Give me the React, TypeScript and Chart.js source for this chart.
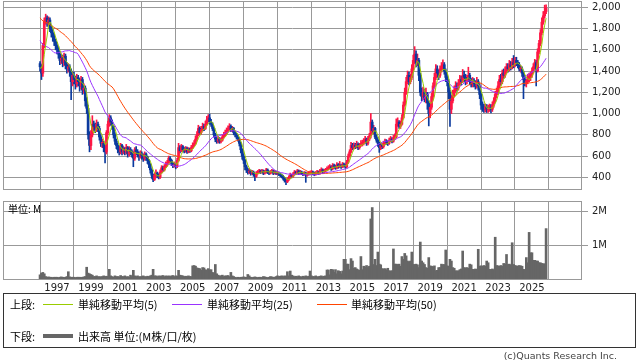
import React, { useEffect, useRef } from "react";
import { Chart, registerables } from "chart.js";

Chart.register(...registerables);

// ---------- data (monthly, Jan 1996 .. Nov 2025) ----------
const START_YEAR = 1996;
const yearTicks = [1997, 1999, 2001, 2003, 2005, 2007, 2009, 2011, 2013, 2015, 2017, 2019, 2021, 2023, 2025];
const priceTicks = [400, 600, 800, 1000, 1200, 1400, 1600, 1800, 2000];
const volumeTicks = [1, 2];
const maPeriods = [5, 25, 50];

// closes before Jan 1996 (only used to warm up the moving averages)
const preCloses = [
  2150, 2250, 2300, 2200, 2100, 2250, 2300, 2200, 2150, 2100,
  2050, 1950, 2000, 2100, 2050, 1950, 2000, 2100,
  2100, 2150, 2050, 2000, 2100, 2150, 2100, 2000, 1950, 2050, 2100, 2050, 2000, 2100, 2050, 2000, 2020,
  1700, 1600, 1500, 1450, 1400, 1450, 1400, 1380, 1420, 1400, 1380, 1450, 1420, 1450,
];

const opens = [
  1470, 1440, 1380, 1640, 1870, 1900, 1860, 1880, 1800, 1760, 1720, 1680,
  1640, 1600, 1560, 1500, 1520, 1480, 1540, 1460, 1420, 1440, 1400, 1300,
  1360, 1320, 1280, 1340, 1300, 1260, 1320, 1220, 1240, 1120, 1050, 800,
  700, 800, 900, 880, 850, 900, 860, 780, 720, 720, 680, 640,
  820, 900, 960, 920, 880, 800, 740, 700, 660, 640, 700, 640,
  660, 640, 680, 620, 660, 640, 620, 580, 660, 640, 620, 600,
  620, 600, 580, 620, 590, 560, 520, 470, 420, 380, 420, 440,
  420, 400, 450, 490, 470, 500, 520, 540, 580, 560, 530, 510,
  520, 500, 560, 680, 650, 690, 660, 650, 670, 640, 660, 650,
  680, 700, 720, 760, 800, 860, 820, 850, 880, 860, 900, 940,
  960, 920, 900, 860, 800, 760, 740, 760, 740, 750, 780, 800,
  820, 840, 860, 880, 850, 860, 820, 800, 780, 760, 720, 660,
  600, 560, 500, 470, 450, 460, 440, 450, 430, 410, 440, 450,
  460, 450, 460, 440, 450, 470, 450, 440, 450, 460, 440, 450,
  440, 440, 430, 420, 410, 390, 370, 360, 380, 400, 420, 410,
  430, 450, 440, 460, 440, 450, 440, 430, 440, 420, 430, 440,
  440, 450, 440, 430, 440, 450, 440, 460, 470, 450, 460, 470,
  480, 490, 500, 480, 510, 500, 490, 520, 500, 510, 500, 520,
  510, 500, 540, 600, 640, 700, 680, 700, 690, 710, 680, 700,
  720, 720, 740, 760, 720, 760, 790, 920, 840, 860, 780, 750,
  720, 680, 700, 690, 720, 740, 730, 720, 750, 760, 740, 770,
  780, 900, 920, 880, 900, 960, 1080, 1200, 1300, 1360, 1300, 1340,
  1420, 1500, 1560, 1480, 1500, 1360, 1200, 1160, 1200, 1140, 1180, 1100,
  1000, 1060, 1160, 1260, 1340, 1420, 1380, 1360, 1420, 1440, 1460, 1400,
  1340, 1300, 1200, 1040, 1120, 1180, 1220, 1260, 1240, 1280, 1320, 1300,
  1360, 1340, 1300, 1320, 1360, 1300, 1280, 1300, 1280, 1260, 1300, 1260,
  1180, 1080, 1060, 1040, 1060, 1040, 1050, 1060, 1040, 1080, 1120, 1180,
  1200, 1260, 1320, 1300, 1380, 1360, 1400, 1440, 1420, 1460, 1440, 1480,
  1460, 1500, 1480, 1460, 1420, 1420, 1380, 1320, 1300, 1300, 1340, 1340,
  1360, 1400, 1440, 1480, 1400, 1580, 1660, 1760, 1860, 1920, 1960,
];

const highs = [
  1490, 1460, 1660, 1900, 1935, 1920, 1910, 1900, 1830, 1790, 1750, 1700,
  1670, 1630, 1580, 1560, 1550, 1570, 1560, 1480, 1470, 1460, 1420, 1390,
  1390, 1350, 1370, 1360, 1330, 1350, 1340, 1280, 1260, 1150, 1080, 830,
  840, 980, 930, 910, 940, 920, 880, 800, 760, 740, 700, 840,
  930, 990, 980, 940, 890, 820, 760, 720, 690, 720, 710, 690,
  680, 710, 690, 690, 680, 660, 640, 680, 690, 660, 640, 650,
  640, 620, 640, 630, 600, 570, 530, 480, 430, 440, 470, 450,
  430, 470, 510, 505, 520, 545, 560, 600, 595, 570, 540, 545,
  530, 580, 720, 700, 710, 700, 680, 690, 685, 680, 675, 700,
  725, 745, 790, 830, 890, 875, 880, 910, 900, 930, 975, 990,
  995, 945, 915, 870, 815, 775, 785, 775, 770, 800, 825, 845,
  865, 885, 905, 895, 880, 870, 835, 815, 795, 775, 730, 670,
  620, 570, 515, 485, 480, 470, 465, 460, 440, 455, 465, 475,
  470, 475, 470, 465, 485, 480, 460, 465, 475, 470, 465, 460,
  455, 450, 440, 430, 420, 400, 380, 395, 415, 440, 430, 445,
  465, 460, 475, 470, 465, 460, 450, 455, 450, 445, 455, 460,
  465, 460, 450, 455, 465, 460, 475, 490, 480, 475, 485, 500,
  510, 520, 510, 530, 525, 515, 540, 530, 550, 525, 540, 535,
  525, 560, 620, 660, 730, 720, 725, 720, 740, 725, 720, 745,
  750, 765, 785, 770, 785, 815, 1000, 940, 890, 870, 800, 765,
  730, 720, 715, 740, 760, 755, 745, 770, 785, 775, 795, 810,
  950, 960, 935, 930, 990, 1110, 1240, 1340, 1400, 1390, 1370, 1460,
  1550, 1630, 1590, 1560, 1520, 1380, 1240, 1250, 1230, 1240, 1200, 1120,
  1100, 1190, 1290, 1380, 1460, 1450, 1410, 1450, 1480, 1505, 1480, 1420,
  1370, 1320, 1220, 1170, 1220, 1260, 1300, 1290, 1320, 1360, 1350, 1415,
  1400, 1370, 1360, 1436, 1380, 1330, 1340, 1330, 1310, 1340, 1320, 1280,
  1200, 1110, 1090, 1090, 1085, 1080, 1090, 1085, 1110, 1150, 1210, 1240,
  1300, 1360, 1370, 1410, 1420, 1440, 1470, 1470, 1500, 1490, 1520, 1546,
  1530, 1530, 1500, 1480, 1450, 1440, 1400, 1340, 1320, 1370, 1380, 1390,
  1430, 1470, 1510, 1500, 1610, 1690, 1790, 1900, 1960, 2020, 2022,
];

const lows = [
  1400, 1320, 1350, 1620, 1840, 1820, 1830, 1770, 1720, 1680, 1640, 1600,
  1560, 1520, 1460, 1470, 1440, 1450, 1420, 1380, 1390, 1350, 1130, 1260,
  1280, 1230, 1250, 1260, 1210, 1230, 1180, 1190, 1070, 1000, 760, 640,
  660, 780, 840, 820, 830, 830, 750, 690, 680, 640, 535, 620,
  800, 880, 890, 850, 770, 710, 670, 630, 610, 620, 610, 620,
  610, 620, 590, 600, 610, 590, 500, 560, 610, 590, 560, 580,
  570, 550, 560, 560, 530, 490, 440, 390, 360, 370, 400, 395,
  385, 390, 440, 455, 460, 490, 505, 530, 540, 510, 490, 495,
  480, 490, 550, 630, 640, 640, 630, 635, 625, 630, 635, 640,
  670, 690, 710, 750, 790, 800, 805, 835, 840, 850, 890, 925,
  900, 880, 840, 780, 735, 720, 725, 720, 725, 740, 770, 790,
  805, 825, 845, 830, 830, 800, 780, 760, 740, 695, 630, 570,
  530, 470, 445, 430, 435, 420, 425, 410, 368, 400, 430, 440,
  435, 440, 425, 430, 440, 435, 425, 430, 440, 425, 430, 425,
  425, 415, 405, 395, 375, 355, 331, 350, 370, 390, 395, 400,
  420, 425, 430, 425, 430, 425, 415, 420, 353, 410, 420, 425,
  430, 425, 415, 420, 430, 425, 430, 450, 435, 440, 450, 460,
  470, 480, 465, 470, 485, 475, 480, 485, 490, 485, 490, 495,
  485, 490, 530, 590, 630, 660, 665, 670, 675, 660, 665, 690,
  695, 705, 725, 700, 705, 745, 770, 810, 810, 765, 730, 690,
  635, 660, 670, 675, 705, 710, 700, 710, 735, 725, 730, 755,
  770, 880, 860, 860, 890, 950, 1070, 1180, 1280, 1270, 1280, 1320,
  1400, 1470, 1440, 1450, 1310, 1170, 1120, 1130, 1110, 1100, 1040, 884,
  960, 1040, 1140, 1240, 1320, 1340, 1320, 1340, 1390, 1410, 1370, 1300,
  1260, 1140, 880, 1000, 1100, 1160, 1200, 1210, 1220, 1260, 1270, 1290,
  1310, 1270, 1280, 1300, 1270, 1250, 1250, 1250, 1230, 1240, 1220, 1140,
  1040, 1020, 1010, 1015, 1010, 1010, 1020, 1005, 1020, 1060, 1100, 1150,
  1180, 1240, 1270, 1280, 1330, 1340, 1380, 1390, 1400, 1410, 1420, 1430,
  1440, 1450, 1430, 1400, 1390, 1350, 1140, 1260, 1250, 1280, 1300, 1310,
  1340, 1380, 1420, 1260, 1390, 1560, 1640, 1740, 1840, 1900, 1940,
];

const closes = [
  1440, 1380, 1640, 1870, 1900, 1860, 1880, 1800, 1760, 1720, 1680, 1640,
  1600, 1560, 1500, 1520, 1480, 1540, 1460, 1420, 1440, 1400, 1300, 1360,
  1320, 1280, 1340, 1300, 1260, 1320, 1220, 1240, 1120, 1050, 800, 700,
  800, 900, 880, 850, 900, 860, 780, 720, 720, 680, 640, 820,
  900, 960, 920, 880, 800, 740, 700, 660, 640, 700, 640, 660,
  640, 680, 620, 660, 640, 620, 580, 660, 640, 620, 600, 620,
  600, 580, 620, 590, 560, 520, 470, 420, 380, 420, 440, 420,
  400, 450, 490, 470, 500, 520, 540, 580, 560, 530, 510, 520,
  500, 560, 680, 650, 690, 660, 650, 670, 640, 660, 650, 680,
  700, 720, 760, 800, 860, 820, 850, 880, 860, 900, 940, 960,
  920, 900, 860, 800, 760, 740, 760, 740, 750, 780, 800, 820,
  840, 860, 880, 850, 860, 820, 800, 780, 760, 720, 660, 600,
  560, 500, 470, 450, 460, 440, 450, 430, 410, 440, 450, 460,
  450, 460, 440, 450, 470, 450, 440, 450, 460, 440, 450, 440,
  440, 430, 420, 410, 390, 370, 360, 380, 400, 420, 410, 430,
  450, 440, 460, 440, 450, 440, 430, 440, 420, 430, 440, 440,
  450, 440, 430, 440, 450, 440, 460, 470, 450, 460, 470, 480,
  490, 500, 480, 510, 500, 490, 520, 500, 510, 500, 520, 510,
  500, 540, 600, 640, 700, 680, 700, 690, 710, 680, 700, 720,
  720, 740, 760, 720, 760, 790, 920, 840, 860, 780, 750, 720,
  680, 700, 690, 720, 740, 730, 720, 750, 760, 740, 770, 780,
  900, 920, 880, 900, 960, 1080, 1200, 1300, 1360, 1300, 1340, 1420,
  1500, 1560, 1480, 1500, 1360, 1200, 1160, 1200, 1140, 1180, 1100, 1000,
  1060, 1160, 1260, 1340, 1420, 1380, 1360, 1420, 1440, 1460, 1400, 1340,
  1300, 1200, 1040, 1120, 1180, 1220, 1260, 1240, 1280, 1320, 1300, 1360,
  1340, 1300, 1320, 1360, 1300, 1280, 1300, 1280, 1260, 1300, 1260, 1180,
  1080, 1060, 1040, 1060, 1040, 1050, 1060, 1040, 1080, 1120, 1180, 1200,
  1260, 1320, 1300, 1380, 1360, 1400, 1440, 1420, 1460, 1440, 1480, 1460,
  1500, 1480, 1460, 1420, 1420, 1380, 1320, 1300, 1300, 1340, 1340, 1360,
  1400, 1440, 1480, 1400, 1580, 1660, 1760, 1860, 1920, 1960, 1990,
];

// volume in millions of shares
const volumes = [
  0.15, 0.2, 0.22, 0.18, 0.1, 0.08, 0.09, 0.08, 0.08, 0.07, 0.08, 0.08,
  0.08, 0.07, 0.08, 0.09, 0.08, 0.07, 0.08, 0.1, 0.24, 0.09, 0.08, 0.08,
  0.08, 0.07, 0.08, 0.08, 0.08, 0.07, 0.08, 0.09, 0.1, 0.37, 0.2, 0.18,
  0.16, 0.14, 0.1, 0.1, 0.12, 0.09, 0.1, 0.09, 0.1, 0.12, 0.1, 0.11,
  0.1, 0.31, 0.12, 0.1, 0.08, 0.12, 0.1, 0.1, 0.09, 0.13, 0.1, 0.1,
  0.12, 0.09, 0.1, 0.08, 0.14, 0.1, 0.28, 0.12, 0.1, 0.12, 0.09, 0.1,
  0.1, 0.12, 0.1, 0.09, 0.11, 0.1, 0.12, 0.14, 0.31, 0.12, 0.12, 0.1,
  0.12, 0.11, 0.12, 0.13, 0.1, 0.12, 0.11, 0.12, 0.1, 0.12, 0.13, 0.1,
  0.12, 0.11, 0.28, 0.14, 0.13, 0.12, 0.1, 0.11, 0.1, 0.12, 0.1, 0.1,
  0.41, 0.42, 0.4, 0.35, 0.34, 0.33, 0.28, 0.36, 0.35, 0.3, 0.28, 0.33,
  0.29, 0.3, 0.22, 0.2, 0.45, 0.18, 0.14, 0.12, 0.12, 0.14, 0.1, 0.12,
  0.12, 0.13, 0.1, 0.22, 0.12, 0.1, 0.08, 0.07, 0.08, 0.07, 0.08, 0.08,
  0.09, 0.08, 0.08, 0.16, 0.12, 0.08, 0.07, 0.08, 0.09, 0.08, 0.07, 0.08,
  0.08, 0.07, 0.1, 0.09, 0.08, 0.07, 0.08, 0.1, 0.09, 0.08, 0.08, 0.1,
  0.12, 0.1, 0.11, 0.12, 0.1, 0.12, 0.11, 0.24, 0.12, 0.26, 0.14, 0.12,
  0.1, 0.11, 0.1, 0.12, 0.1, 0.09, 0.11, 0.1, 0.12, 0.1, 0.11, 0.26,
  0.12, 0.1, 0.1, 0.12, 0.09, 0.1, 0.11, 0.12, 0.1, 0.11, 0.12, 0.29,
  0.29, 0.15, 0.31, 0.3, 0.22, 0.3, 0.18, 0.27, 0.25, 0.18, 0.26, 0.6,
  0.6, 0.46, 0.46, 0.3, 0.62, 0.55, 0.34, 0.36, 0.32, 0.3, 0.28, 0.68,
  0.3, 0.4, 0.38, 0.42, 0.36, 0.4, 1.77, 2.1, 0.45, 0.6, 0.42, 0.81,
  0.46, 0.44, 0.33, 0.32, 0.33, 0.3, 0.34, 0.27, 0.26, 0.27, 0.9, 0.46,
  0.46, 0.45, 0.46, 0.4, 0.68, 0.6, 0.77, 0.7, 0.55, 0.52, 0.55, 0.81,
  0.45, 0.45, 0.46, 0.44, 0.36, 1.1, 0.55, 0.5, 0.45, 0.36, 0.34, 0.65,
  0.41, 0.4, 0.38, 0.41, 0.27, 0.28, 0.36, 0.36, 0.46, 0.44, 0.45, 0.87,
  0.41, 0.4, 0.6, 0.55, 0.36, 0.34, 0.27, 0.26, 0.27, 0.3, 0.32, 0.84,
  0.36, 0.35, 0.36, 0.34, 0.46, 0.44, 0.31, 0.3, 0.32, 0.31, 0.89, 0.4,
  0.41, 0.4, 0.42, 0.4, 0.55, 0.5, 0.31, 0.3, 0.32, 0.3, 1.24, 0.42,
  0.41, 0.4, 0.42, 0.4, 0.48, 0.46, 0.74, 0.45, 0.46, 0.44, 1.08, 0.45,
  0.42, 0.41, 0.4, 0.42, 0.41, 0.4, 0.31, 0.3, 0.65, 0.5, 1.38, 0.79,
  0.79, 0.57, 0.57, 0.55, 0.55, 0.5, 0.5, 0.48, 0.47, 0.47, 1.49,
];

// ---------- styles ----------
const UP = "#ff1744";
const DOWN = "#0b3a9e";
const MA_COLORS = ["#99cc00", "#9933ff", "#ff4400"];
const GRID = "#999999";
const FRAME = "#999999";
const TEXT = "#222222";
const VOL = "#666666";
const X_MIN = -26.2;
const X_MAX = 383.4;
const FONT = "'DejaVu Sans', sans-serif";
const JP = "'Noto Sans CJK JP', sans-serif";

const monthOf = (year: number) => (year - START_YEAR) * 12;

function movingAverage(n: number) {
  const all = preCloses.concat(closes);
  const off = preCloses.length;
  return closes.map((_, i) => {
    let s = 0;
    for (let k = 0; k < n; k++) s += all[off + i - k];
    return { x: i, y: s / n };
  });
}

const framePlugin = {
  id: "frame",
  afterDraw(chart: any) {
    const { ctx, chartArea: a } = chart;
    ctx.save();
    ctx.strokeStyle = FRAME;
    ctx.lineWidth = 1;
    const l = Math.round(a.left) + 0.5;
    const t = Math.round(a.top) + 0.5;
    const r = Math.round(a.right) - 0.5;
    const b = Math.round(a.bottom) - 0.5;
    ctx.strokeRect(l, t, r - l, b - t);
    ctx.restore();
  },
};

function xScale(showLabels: boolean, height: number) {
  return {
    type: "linear" as const,
    min: X_MIN,
    max: X_MAX,
    offset: false,
    afterBuildTicks: (s: any) => {
      s.ticks = yearTicks.map((y) => ({ value: monthOf(y) }));
    },
    afterFit: (s: any) => {
      s.height = height;
      s.paddingLeft = 0;
      s.paddingRight = 0;
    },
    ticks: {
      display: showLabels,
      autoSkip: false,
      maxRotation: 0,
      padding: 2,
      color: TEXT,
      font: { family: FONT, size: 10 },
      callback: (v: any) => String(START_YEAR + Math.round(Number(v) / 12)),
    },
    grid: { color: GRID, lineWidth: 1, drawTicks: false },
    border: { display: false },
  };
}

function PriceChart() {
  const ref = useRef<HTMLCanvasElement>(null);
  useEffect(() => {
    const idx = closes.map((_, i) => i);
    const colors = idx.map((i) => (closes[i] >= opens[i] ? UP : DOWN));
    const chart = new Chart(ref.current as HTMLCanvasElement, {
      type: "bar",
      data: {
        datasets: [
          ...maPeriods.map((n, k) => ({
            type: "line" as const,
            data: movingAverage(n),
            borderColor: MA_COLORS[k],
            borderWidth: 1,
            pointRadius: 0,
            tension: 0,
            order: k,
          })),
          {
            type: "bar" as const,
            data: idx.map((i) => ({ x: i, y: [Math.min(opens[i], closes[i]), Math.max(opens[i], closes[i])] })),
            backgroundColor: colors,
            barThickness: 2,
            minBarLength: 1,
            grouped: false,
            order: 10,
          },
          {
            type: "bar" as const,
            data: idx.map((i) => ({ x: i, y: [lows[i], highs[i]] })),
            backgroundColor: colors,
            barThickness: 1,
            grouped: false,
            order: 11,
          },
        ] as any,
      },
      options: {
        animation: false,
        responsive: false,
        maintainAspectRatio: false,
        events: [],
        layout: { padding: { left: 3, top: 1, right: 0, bottom: 10 } },
        plugins: { legend: { display: false }, tooltip: { enabled: false } },
        scales: {
          x: xScale(false, 0) as any,
          y: {
            type: "linear",
            position: "right",
            min: 281,
            max: 2059,
            afterBuildTicks: (s: any) => {
              s.ticks = priceTicks.map((v) => ({ value: v }));
            },
            afterFit: (s: any) => {
              s.width = 56;
              s.paddingTop = 0;
              s.paddingBottom = 0;
            },
            ticks: {
              padding: 4,
              color: TEXT,
              font: { family: FONT, size: 10 },
              callback: (v: any) => Number(v).toLocaleString("en-US"),
            },
            grid: { color: GRID, lineWidth: 1, tickLength: 6, drawTicks: true },
            border: { display: false },
          } as any,
        },
      },
      plugins: [framePlugin],
    });
    return () => chart.destroy();
  }, []);
  return (
    <canvas
      ref={ref}
      width={638}
      height={200}
      style={{ position: "absolute", left: 0, top: 0, width: 638, height: 200 }}
    />
  );
}

function VolumeChart() {
  const ref = useRef<HTMLCanvasElement>(null);
  useEffect(() => {
    const chart = new Chart(ref.current as HTMLCanvasElement, {
      type: "bar",
      data: {
        datasets: [
          {
            data: volumes.map((v, i) => ({ x: i, y: v })),
            backgroundColor: VOL,
            barThickness: 2,
            grouped: false,
          } as any,
        ],
      },
      options: {
        animation: false,
        responsive: false,
        maintainAspectRatio: false,
        events: [],
        layout: { padding: { left: 3, top: 6, right: 0, bottom: 0 } },
        plugins: { legend: { display: false }, tooltip: { enabled: false } },
        scales: {
          x: xScale(true, 15) as any,
          y: {
            type: "linear",
            position: "right",
            min: 0,
            max: 2.29,
            afterBuildTicks: (s: any) => {
              s.ticks = volumeTicks.map((v) => ({ value: v }));
            },
            afterFit: (s: any) => {
              s.width = 56;
              s.paddingTop = 0;
              s.paddingBottom = 0;
            },
            ticks: {
              padding: 4,
              color: TEXT,
              font: { family: FONT, size: 10 },
              callback: (v: any) => `${v}M`,
            },
            grid: { color: GRID, lineWidth: 1, tickLength: 6, drawTicks: true },
            border: { display: false },
          } as any,
        },
      },
      plugins: [framePlugin],
    });
    return () => chart.destroy();
  }, []);
  return (
    <canvas
      ref={ref}
      width={638}
      height={100}
      style={{ position: "absolute", left: 0, top: 195, width: 638, height: 100 }}
    />
  );
}

const txt = (left: number, top: number, s: string, extra: any = {}) => (
  <div
    style={{
      position: "absolute",
      left,
      top,
      fontFamily: JP,
      fontSize: 11,
      lineHeight: "14px",
      color: "#000",
      whiteSpace: "nowrap",
      ...extra,
    }}
  >
    {s}
  </div>
);

const line = (left: number, top: number, width: number, height: number, color: string) => (
  <div style={{ position: "absolute", left, top, width, height, background: color }} />
);

export default function App() {
  return (
    <div
      style={{
        position: "absolute",
        left: 0,
        top: 0,
        width: 638,
        height: 362,
        background: "#fff",
        overflow: "hidden",
      }}
    >
      <PriceChart />
      <VolumeChart />
      {txt(8, 202, "単位: M", { fontSize: 10 })}
      <div
        style={{
          position: "absolute",
          left: 3,
          top: 293,
          width: 631,
          height: 53,
          border: "1px solid #333",
        }}
      />
      {txt(10, 297, "上段:")}
      {line(43, 304, 30, 1, MA_COLORS[0])}
      {txt(78, 297, "単純移動平均(5)")}
      {line(172, 304, 30, 1, MA_COLORS[1])}
      {txt(207, 297, "単純移動平均(25)")}
      {line(317, 304, 30, 1, MA_COLORS[2])}
      {txt(351, 297, "単純移動平均(50)")}
      {txt(10, 329, "下段:")}
      {line(43, 334, 30, 4, VOL)}
      {txt(78, 329, "出来高 単位:(M株/口/枚)")}
      <div
        style={{
          position: "absolute",
          right: 21,
          top: 349,
          fontFamily: FONT,
          fontSize: 9.5,
          lineHeight: "14px",
          color: "#444",
          whiteSpace: "nowrap",
        }}
      >
        (c)Quants Research Inc.
      </div>
    </div>
  );
}
